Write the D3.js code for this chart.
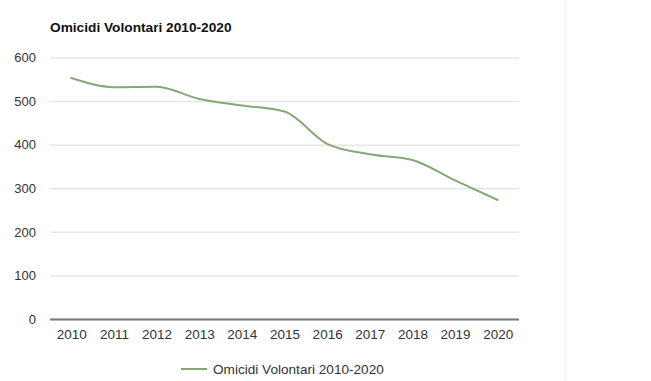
<!DOCTYPE html>
<html>
<head>
<meta charset="utf-8">
<script src="https://cdn.jsdelivr.net/npm/d3@7"></script>
<style>
  html, body { margin: 0; padding: 0; background: #fff; }
  svg { display: block; font-family: "Liberation Sans", Arial, Helvetica, sans-serif; }
</style>
</head>
<body>
<svg id="chart" width="651" height="381"></svg>
<script>
// Omicidi volontari in Italia, 2010-2020
const years = ["2010", "2011", "2012", "2013", "2014", "2015", "2016", "2017", "2018", "2019", "2020"];
const omicidi = [553, 532, 533, 505, 490, 476, 402, 378, 365, 318, 273];
const yTicks = [0, 100, 200, 300, 400, 500, 600];
const seriesName = "Omicidi Volontari 2010-2020";
const titleText = "Omicidi Volontari 2010-2020";

const svg = d3.select("#chart");
const W = 651, H = 381;
const plot = { left: 50, right: 519, top: 57.5, bottom: 319 };

const lineColor = "#86a874";

// faint separator on the right side of the canvas
svg.append("line")
  .attr("x1", 565.5).attr("x2", 565.5)
  .attr("y1", 0).attr("y2", H)
  .attr("stroke", "#f2f2f2").attr("stroke-width", 1);

const x = d3.scalePoint()
  .domain(years)
  .range([plot.left, plot.right])
  .padding(0.5);

const y = d3.scaleLinear()
  .domain([0, 600])
  .range([plot.bottom, plot.top]);

// title
svg.append("text")
  .attr("x", 50).attr("y", 32)
  .attr("font-size", 13.7).attr("font-weight", "bold")
  .attr("fill", "#111")
  .text(titleText);

// horizontal gridlines and y labels
const yAxis = d3.axisLeft(y)
  .tickValues(yTicks)
  .tickSize(-(plot.right - plot.left))
  .tickPadding(14)
  .tickFormat(d3.format("d"));

const gy = svg.append("g")
  .attr("transform", `translate(${plot.left},0)`)
  .call(yAxis);
gy.select(".domain").remove();
gy.selectAll(".tick line")
  .attr("stroke", d => d === 0 ? "#777" : "#e6e6e6")
  .attr("stroke-width", d => d === 0 ? 2 : 1.5);
gy.selectAll(".tick text")
  .attr("font-size", 13)
  .attr("font-family", "Liberation Sans, Arial, sans-serif")
  .attr("fill", "#333");

// x axis labels
const xAxis = d3.axisBottom(x).tickSize(0).tickPadding(10);
const gx = svg.append("g")
  .attr("transform", `translate(0,${plot.bottom})`)
  .call(xAxis);
gx.select(".domain").remove();
gx.selectAll(".tick text")
  .attr("font-size", 13.5)
  .attr("font-family", "Liberation Sans, Arial, sans-serif")
  .attr("fill", "#333");

// series line
const line = d3.line()
  .x((d, i) => x(years[i]))
  .y(d => y(d))
  .curve(d3.curveMonotoneX);

svg.append("path")
  .datum(omicidi)
  .attr("d", line)
  .attr("fill", "none")
  .attr("stroke", lineColor)
  .attr("stroke-width", 2)
  .attr("stroke-linecap", "round");

// legend
const lg = svg.append("g").attr("transform", "translate(181,369)");
lg.append("line")
  .attr("x1", 0).attr("x2", 26)
  .attr("y1", 0).attr("y2", 0)
  .attr("stroke", lineColor).attr("stroke-width", 2);
lg.append("text")
  .attr("x", 32).attr("y", 4.5)
  .attr("font-size", 13.6)
  .attr("fill", "#333")
  .text(seriesName);
</script>
</body>
</html>
